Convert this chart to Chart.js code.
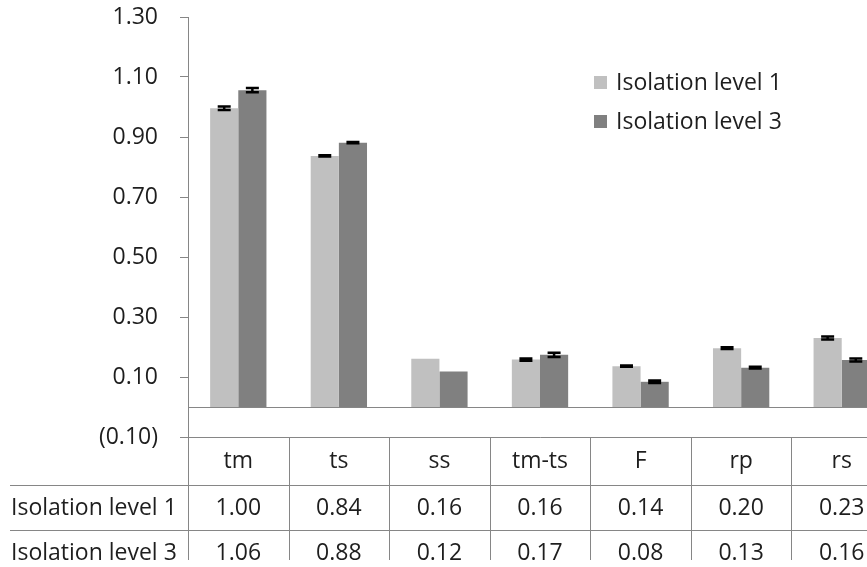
<!DOCTYPE html>
<html lang="en">
<head>
<meta charset="utf-8">
<title>Isolation level</title>
<script src="https://cdn.jsdelivr.net/npm/chart.js@4.4.0/dist/chart.umd.min.js"></script>
<style>
  html, body { margin: 0; padding: 0; background: #fff; overflow: hidden; }
  #wrap { position: relative; width: 892px; height: 567px; }
</style>
</head>
<body>
<div id="wrap"><canvas id="chart"></canvas></div>
<script>
  const categories = ['tm', 'ts', 'ss', 'tm-ts', 'F', 'rp', 'rs'];
  const seriesNames = ['Isolation level 1', 'Isolation level 3'];
  const level1 = [0.996, 0.837, 0.161, 0.158, 0.136, 0.196, 0.230];
  const level3 = [1.056, 0.881, 0.118, 0.174, 0.084, 0.131, 0.157];
  const level1Err = [0.006, 0.002, null, 0.004, 0.002, 0.003, 0.005];
  const level3Err = [0.007, 0.002, null, 0.007, 0.004, 0.003, 0.005];
  const yTicks = [-0.1, 0.1, 0.3, 0.5, 0.7, 0.9, 1.1, 1.3];
  const colors = ['#c0c0c0', '#808080'];

  const FONT = '"Open Sans", sans-serif';
  const FONT_SIZE = 23;
  const textColor = '#1e1e1e';
  const lineColor = '#868686';

  const fmt = (v) => v < 0 ? '(' + Math.abs(v).toFixed(2) + ')' : v.toFixed(2);

  // zero line sits under the bars
  const zeroLine = {
    id: 'zeroLine',
    beforeDatasetsDraw(chart) {
      const { ctx, chartArea } = chart;
      const y = Math.round(chart.scales.y.getPixelForValue(0)) + 0.5;
      ctx.save();
      ctx.strokeStyle = lineColor;
      ctx.lineWidth = 1;
      ctx.beginPath();
      ctx.moveTo(chartArea.left, y);
      ctx.lineTo(chartArea.right, y);
      ctx.stroke();
      ctx.restore();
    }
  };

  const errorBars = {
    id: 'errorBars',
    afterDatasetsDraw(chart) {
      const { ctx } = chart;
      const yScale = chart.scales.y;
      const errs = [level1Err, level3Err];
      ctx.save();
      ctx.strokeStyle = '#000';
      ctx.lineWidth = 2.5;
      chart.data.datasets.forEach((ds, d) => {
        chart.getDatasetMeta(d).data.forEach((bar, i) => {
          const e = errs[d][i];
          if (e == null) return;
          const v = ds.data[i];
          const yt = yScale.getPixelForValue(v + e);
          const yb = yScale.getPixelForValue(v - e);
          const half = 6.5;
          ctx.beginPath();
          ctx.moveTo(bar.x - half, yt); ctx.lineTo(bar.x + half, yt);
          ctx.moveTo(bar.x - half, yb); ctx.lineTo(bar.x + half, yb);
          ctx.moveTo(bar.x, yt); ctx.lineTo(bar.x, yb);
          ctx.stroke();
        });
      });
      ctx.restore();
    }
  };

  const legendAndTable = {
    id: 'legendAndTable',
    afterDraw(chart) {
      const { ctx, chartArea } = chart;
      const n = categories.length;
      const catW = (chartArea.right - chartArea.left) / n;
      const top = Math.round(chartArea.bottom) + 0.5;
      const headBottom = top + 48;
      const row1Bottom = headBottom + 45;
      const left = Math.round(chartArea.left) + 0.5;

      ctx.save();
      ctx.font = FONT_SIZE + 'px ' + FONT;
      ctx.fillStyle = textColor;
      ctx.textBaseline = 'middle';

      // legend, placed against the plot's top-left corner
      const lx = 594;
      const ly = 83;
      seriesNames.forEach((name, k) => {
        const cy = ly + k * 39;
        ctx.fillStyle = colors[k];
        ctx.fillRect(lx, cy - 7, 13, 13);
        ctx.fillStyle = textColor;
        ctx.textAlign = 'left';
        ctx.fillText(name, lx + 22, cy);
      });

      // data table under the plot
      ctx.beginPath();
      ctx.rect(0, 0, chart.width, 560);
      ctx.clip();
      ctx.strokeStyle = lineColor;
      ctx.lineWidth = 1;
      ctx.beginPath();
      ctx.moveTo(left, top); ctx.lineTo(chartArea.right, top);
      ctx.moveTo(10, headBottom); ctx.lineTo(chartArea.right, headBottom);
      ctx.moveTo(10, row1Bottom); ctx.lineTo(chartArea.right, row1Bottom);
      for (let i = 0; i <= n; i++) {
        const x = Math.round(chartArea.left + i * catW) + 0.5;
        ctx.moveTo(x, top); ctx.lineTo(x, chart.height);
      }
      ctx.stroke();

      const rows = [level1, level3];
      ctx.textAlign = 'center';
      categories.forEach((c, i) => {
        const cx = chartArea.left + (i + 0.5) * catW;
        ctx.fillText(c, cx, top + 24);
        rows.forEach((r, k) => ctx.fillText(r[i].toFixed(2), cx, headBottom + 23 + k * 45));
      });
      ctx.textAlign = 'left';
      seriesNames.forEach((name, k) => ctx.fillText(name, 11, headBottom + 23 + k * 45));
      ctx.restore();
    }
  };

  new Chart(document.getElementById('chart'), {
    type: 'bar',
    data: {
      labels: categories,
      datasets: [
        { label: seriesNames[0], data: level1, backgroundColor: colors[0] },
        { label: seriesNames[1], data: level3, backgroundColor: colors[1] }
      ]
    },
    options: {
      responsive: true,
      maintainAspectRatio: false,
      animation: false,
      datasets: { bar: { categoryPercentage: 0.56, barPercentage: 1.0 } },
      layout: { padding: { top: 0, bottom: 130, left: 0, right: 0 } },
      plugins: { legend: { display: false }, tooltip: { enabled: false } },
      scales: {
        x: { display: false },
        y: {
          min: -0.1,
          max: 1.3,
          afterBuildTicks: (scale) => { scale.ticks = yTicks.map(v => ({ value: v })); },
          afterFit: (scale) => { scale.width = 188; scale.paddingTop = 17; },
          border: { display: true, color: lineColor, width: 1 },
          grid: { drawOnChartArea: false, drawTicks: true, tickLength: 8, color: lineColor, tickColor: lineColor },
          ticks: {
            padding: 22,
            color: textColor,
            font: { family: FONT, size: FONT_SIZE },
            callback: (v) => fmt(v)
          }
        }
      }
    },
    plugins: [zeroLine, errorBars, legendAndTable]
  });
</script>
</body>
</html>
